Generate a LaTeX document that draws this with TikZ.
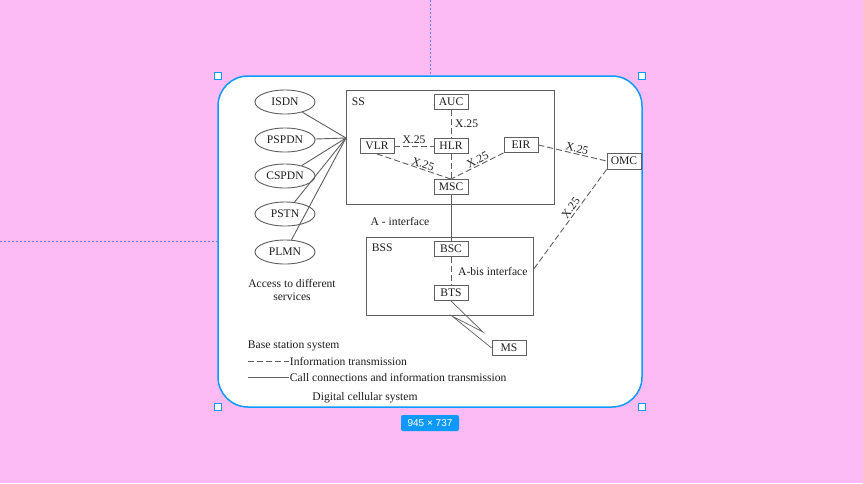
\documentclass[tikz,border=0pt]{standalone}
\usepackage{fontspec}
\setmainfont{Liberation Serif}
\newfontfamily\uifont{Liberation Sans}
\usetikzlibrary{shapes.geometric}
\definecolor{canvaspink}{RGB}{253,187,246}
\definecolor{selblue}{RGB}{13,153,255}
\definecolor{guideblue}{RGB}{110,120,235}
\definecolor{inkgray}{RGB}{95,95,95}
\definecolor{textgray}{RGB}{30,30,30}
\tikzset{
  unit/.style={draw=inkgray, line width=0.9pt, inner sep=0pt, minimum width=34pt, minimum height=15pt, text=textgray},
  network/.style={ellipse, draw=inkgray, line width=0.9pt, inner sep=0pt, minimum width=60pt, minimum height=24pt, text=textgray},
  subsys/.style={draw=inkgray, line width=0.9pt, inner sep=0pt},
  link/.style={draw=inkgray, line width=0.9pt},
  xlink/.style={link, dash pattern=on 6pt off 3pt},
  caption/.style={text=textgray, inner sep=0.75pt},
  handle/.style={draw=selblue, fill=white, line width=0.9pt, minimum size=7pt, inner sep=0pt},
  guide/.style={draw=guideblue, line width=0.8pt, dash pattern=on 2pt off 2pt},
}
\begin{document}
\begin{tikzpicture}[x=1pt,y=1pt,yscale=-1,xscale=1,font=\fontsize{11.6}{13.5}\selectfont]
\useasboundingbox (0,0) rectangle (863,483);
\fill[canvaspink] (0,0) rectangle (863,483);

% Guides
\draw[guide] (430,0) -- (430,75);
\draw[guide] (0,241) -- (217,241);

% Frame
\draw[selblue, fill=white, line width=1.5pt, rounded corners=30pt] (218,76) rectangle (642,407);
\node[handle] (hnw) at (218,76) {};
\node[handle] (hne) at (642,76) {};
\node[handle] (hsw) at (218,407) {};
\node[handle] (hse) at (642,407) {};
\node[fill=selblue, text=white, rounded corners=2pt, inner sep=0pt, minimum width=58pt, minimum height=16pt, font=\uifont\fontsize{10}{11}\selectfont] (dims) at (430,423) {945 × 737};

% Subsystem boxes
\node[subsys, minimum width=208pt, minimum height=114pt] (ss) at (450,147) {};
\node[caption, anchor=west] (sslbl) at (351,102) {SS};
\node[subsys, minimum width=167pt, minimum height=78pt] (bss) at (449.5,276) {};
\node[caption, anchor=west] (bsslbl) at (371,248) {BSS};

% Networks
\node[network] (isdn) at (285,102) {ISDN};
\node[network] (pspdn) at (285,140) {PSPDN};
\node[network] (cspdn) at (285,176) {CSPDN};
\node[network] (pstn) at (285,214) {PSTN};
\node[network] (plmn) at (285,252) {PLMN};
\coordinate (ssin) at (346,138);
\foreach \n in {isdn,pspdn,cspdn,pstn,plmn}
  \draw[link] (\n) -- (ssin);

% Units
\node[unit] (auc) at (451,102) {AUC};
\node[unit] (hlr) at (451,146) {HLR};
\node[unit] (vlr) at (377,146) {VLR};
\node[unit] (eir) at (521,145) {EIR};
\node[unit] (msc) at (451,187) {MSC};
\node[unit, minimum height=16pt] (omc) at (624,161) {OMC};
\node[unit] (bsc) at (451,249) {BSC};
\node[unit] (bts) at (451,293) {BTS};
\node[unit] (ms) at (509,348) {MS};

% X.25 links
\draw[xlink] (auc) -- node[caption, right=3pt] (x1) {X.25} (hlr);
\draw[xlink] (vlr) -- node[caption, above=1pt] (x2) {X.25} (hlr);
\draw[xlink] (hlr) -- (msc);
\draw[xlink] (vlr.south) -- node[caption, pos=0.6, anchor=south, rotate=-19] (x3) {X.25} (msc.north);
\draw[xlink] (eir.south west) -- node[caption, pos=0.45, anchor=south, rotate=27] (x4) {X.25} (msc.north);
\draw[xlink] (eir.east) -- node[caption, pos=0.55, anchor=south, rotate=-13] (x5) {X.25} (omc.west);
\coordinate (bssport) at (533,270);
\draw[xlink] (omc.south west) -- node[caption, pos=0.42, anchor=south, rotate=54, yshift=1pt] (x6) {X.25} (bssport);

% Interfaces
\draw[link] (msc) -- (bsc);
\node[caption] (aif) at (400,221) {A - interface};
\draw[xlink] (bsc) -- node[caption, right=6pt] (abis) {A-bis interface} (bts);

% Radio link
\coordinate (kinka) at (483,332);
\coordinate (kinkb) at (452,316);
\draw[link, line width=0.7pt] (bts.south) -- (kinka) -- (kinkb) -- (ms.west);

% Legend
\node[caption, align=center] (access) at (292,290) {Access to different\\services};
\node[caption, anchor=west] (bsslegend) at (247,346) {Base station system};
\node[caption, anchor=west] (infotx) at (289,361) {Information transmission};
\coordinate (dashstart) at (248,361);
\draw[xlink, line width=0.7pt] (dashstart) -- (infotx.west);
\node[caption, anchor=west] (calltx) at (289,377) {Call connections and information transmission};
\coordinate (solidstart) at (248,377);
\draw[link, line width=0.7pt] (solidstart) -- (calltx.west);
\node[caption] (title) at (365,398) {Digital cellular system};
\end{tikzpicture}
\end{document}
